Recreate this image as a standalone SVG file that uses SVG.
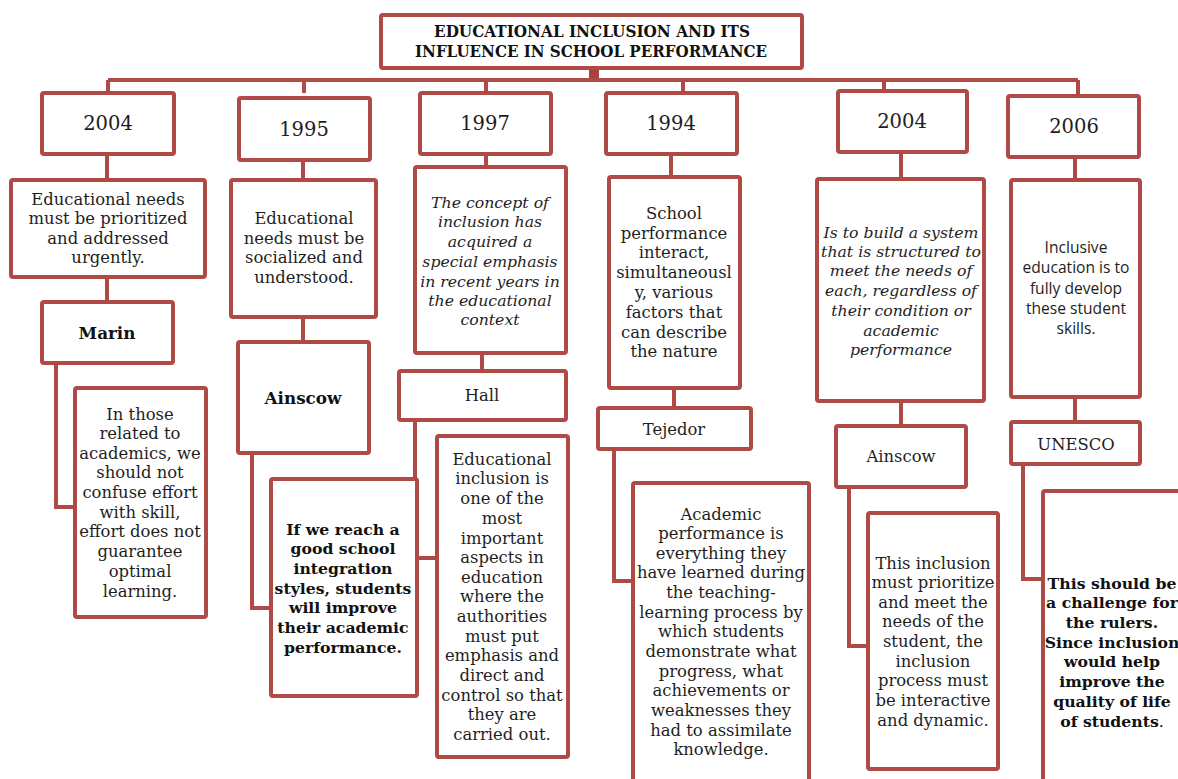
<svg xmlns="http://www.w3.org/2000/svg" width="1178" height="779" viewBox="0 0 1178 779">
<style>
.box{fill:#fff;stroke:#B04A47;stroke-width:4}
.conn{stroke:#B04A47;stroke-width:4;fill:none}
.t{font-family:"DejaVu Serif","Liberation Serif",serif;font-size:16.4px;fill:#1e1e1e;text-anchor:middle;dominant-baseline:central}
.yr{font-size:19.5px}
.b{font-weight:bold;font-size:15.7px;fill:#111}
.lb{font-weight:bold;font-size:16.8px;fill:#111}
.i{font-style:italic;font-size:15.7px}
.s{font-family:"Open Sans","Noto Sans",sans-serif;font-size:15.6px}
.title{font-family:"DejaVu Serif","Liberation Serif",serif;font-weight:bold;font-size:17.5px;fill:#111;text-anchor:middle;dominant-baseline:central}
</style>
<rect width="1178" height="779" fill="#fff"/>
<g id="connectors">
<rect x="589" y="68" width="10" height="14" fill="#A8403E"/>
<path class="conn" d="M108 80H1078"/>
<path class="conn" d="M108 80V93M304 80V93M486 80V93M683 80V93M884 80V91M1078 80V96"/>
<path class="conn" d="M107 155V180M107 277V302M56 363V507H75"/>
<path class="conn" d="M303 161V180M303 317V342M252 453V608H271"/>
<path class="conn" d="M486 155V167M482 353V371M415 420V558H437"/>
<path class="conn" d="M671 155V177M674 388V408M614 449V581H633"/>
<path class="conn" d="M901 153V179M901 401V426M849 487V646H868"/>
<path class="conn" d="M1075 157V180M1075 397V422M1023 464V579H1043"/>
</g>
<g id="title">
<rect class="box" x="381" y="15" width="421" height="53" rx="2"/>
<text class="title" x="592" y="31" textLength="316" lengthAdjust="spacingAndGlyphs">EDUCATIONAL INCLUSION AND ITS</text>
<text class="title" x="591" y="50.5" textLength="352" lengthAdjust="spacingAndGlyphs">INFLUENCE IN SCHOOL PERFORMANCE</text>
</g>
<g id="y2004a"><rect class="box" x="42" y="93" width="132" height="61" rx="2"/><text class="t yr" x="108" y="123">2004</text></g>
<g id="y1995"><rect class="box" x="239" y="98" width="131" height="62" rx="2"/><text class="t yr" x="304" y="129">1995</text></g>
<g id="y1997"><rect class="box" x="420" y="93" width="131" height="61" rx="2"/><text class="t yr" x="485" y="123">1997</text></g>
<g id="y1994"><rect class="box" x="606" y="93" width="131" height="61" rx="2"/><text class="t yr" x="671" y="123">1994</text></g>
<g id="y2004b"><rect class="box" x="838" y="91" width="129" height="61" rx="2"/><text class="t yr" x="902" y="121">2004</text></g>
<g id="y2006"><rect class="box" x="1008" y="96" width="131" height="61" rx="2"/><text class="t yr" x="1074" y="126">2006</text></g>

<g id="c1a"><rect class="box" x="11" y="180" width="194" height="97" rx="2"/>
<text class="t" x="108"><tspan x="108" y="199">Educational needs</tspan><tspan x="108" y="218">must be prioritized</tspan><tspan x="108" y="238">and addressed</tspan><tspan x="108" y="257">urgently.</tspan></text></g>
<g id="marin"><rect class="box" x="42" y="302" width="131" height="61" rx="2"/><text class="t lb" x="107" y="333">Marin</text></g>
<g id="c1b"><rect class="box" x="75" y="388" width="131" height="229" rx="2"/>
<text class="t" x="140"><tspan x="140" y="414">In those</tspan><tspan x="140" y="433">related to</tspan><tspan x="140" y="453">academics, we</tspan><tspan x="140" y="472">should not</tspan><tspan x="140" y="492">confuse effort</tspan><tspan x="140" y="512">with skill,</tspan><tspan x="140" y="531">effort does not</tspan><tspan x="140" y="551">guarantee</tspan><tspan x="140" y="571">optimal</tspan><tspan x="140" y="591">learning.</tspan></text></g>

<g id="c2a"><rect class="box" x="231" y="180" width="145" height="137" rx="2"/>
<text class="t" x="304"><tspan x="304" y="218">Educational</tspan><tspan x="304" y="238">needs must be</tspan><tspan x="304" y="257">socialized and</tspan><tspan x="304" y="277">understood.</tspan></text></g>
<g id="ainscow1"><rect class="box" x="238" y="342" width="131" height="111" rx="2"/><text class="t lb" x="303" y="398">Ainscow</text></g>
<g id="c2b"><rect class="box" x="271" y="479" width="146" height="217" rx="2"/>
<text class="t b" x="343"><tspan x="343" y="529">If we reach a</tspan><tspan x="343" y="548">good school</tspan><tspan x="343" y="568">integration</tspan><tspan x="343" y="588">styles, students</tspan><tspan x="343" y="607">will improve</tspan><tspan x="343" y="627">their academic</tspan><tspan x="343" y="647">performance.</tspan></text></g>

<g id="c3a"><rect class="box" x="415" y="167" width="151" height="186" rx="2"/>
<text class="t i" x="490"><tspan x="490" y="202">The concept of</tspan><tspan x="490" y="221">inclusion has</tspan><tspan x="490" y="241">acquired a</tspan><tspan x="490" y="261">special emphasis</tspan><tspan x="490" y="281">in recent years in</tspan><tspan x="490" y="300">the educational</tspan><tspan x="490" y="319">context</tspan></text></g>
<g id="hall"><rect class="box" x="399" y="371" width="167" height="49" rx="2"/><text class="t" x="482" y="395">Hall</text></g>
<g id="c3b"><rect class="box" x="437" y="436" width="131" height="321" rx="2"/>
<text class="t" x="502"><tspan x="502" y="459">Educational</tspan><tspan x="502" y="478">inclusion is</tspan><tspan x="502" y="498">one of the</tspan><tspan x="502" y="518">most</tspan><tspan x="502" y="538">important</tspan><tspan x="502" y="557">aspects in</tspan><tspan x="502" y="577">education</tspan><tspan x="502" y="596">where the</tspan><tspan x="502" y="616">authorities</tspan><tspan x="502" y="636">must put</tspan><tspan x="502" y="655">emphasis and</tspan><tspan x="502" y="675">direct and</tspan><tspan x="502" y="695">control so that</tspan><tspan x="502" y="714">they are</tspan><tspan x="502" y="734">carried out.</tspan></text></g>

<g id="c4a"><rect class="box" x="609" y="177" width="131" height="211" rx="2"/>
<text class="t" x="674"><tspan x="674" y="213">School</tspan><tspan x="674" y="233">performance</tspan><tspan x="674" y="252">interact,</tspan><tspan x="674" y="272">simultaneousl</tspan><tspan x="674" y="292">y, various</tspan><tspan x="674" y="312">factors that</tspan><tspan x="674" y="332">can describe</tspan><tspan x="674" y="351">the nature</tspan></text></g>
<g id="tejedor"><rect class="box" x="598" y="408" width="153" height="41" rx="2"/><text class="t" x="674" y="429">Tejedor</text></g>
<g id="c4b"><rect class="box" x="633" y="483" width="176" height="310" rx="2"/>
<text class="t" x="721"><tspan x="721" y="514">Academic</tspan><tspan x="721" y="533">performance is</tspan><tspan x="721" y="553">everything they</tspan><tspan x="721" y="572">have learned during</tspan><tspan x="721" y="592">the teaching-</tspan><tspan x="721" y="612">learning process by</tspan><tspan x="721" y="631">which students</tspan><tspan x="721" y="651">demonstrate what</tspan><tspan x="721" y="671">progress, what</tspan><tspan x="721" y="690">achievements or</tspan><tspan x="721" y="710">weaknesses they</tspan><tspan x="721" y="730">had to assimilate</tspan><tspan x="721" y="749">knowledge.</tspan></text></g>

<g id="c5a"><rect class="box" x="817" y="179" width="167" height="222" rx="2"/>
<text class="t i" x="901"><tspan x="901" y="232">Is to build a system</tspan><tspan x="901" y="251">that is structured to</tspan><tspan x="901" y="270">meet the needs of</tspan><tspan x="901" y="290">each, regardless of</tspan><tspan x="901" y="310">their condition or</tspan><tspan x="901" y="330">academic</tspan><tspan x="901" y="349">performance</tspan></text></g>
<g id="ainscow2"><rect class="box" x="836" y="426" width="130" height="61" rx="2"/><text class="t" x="901" y="456">Ainscow</text></g>
<g id="c5b"><rect class="box" x="868" y="513" width="130" height="256" rx="2"/>
<text class="t" x="933"><tspan x="933" y="563">This inclusion</tspan><tspan x="933" y="582">must prioritize</tspan><tspan x="933" y="602">and meet the</tspan><tspan x="933" y="621">needs of the</tspan><tspan x="933" y="641">student, the</tspan><tspan x="933" y="661">inclusion</tspan><tspan x="933" y="680">process must</tspan><tspan x="933" y="700">be interactive</tspan><tspan x="933" y="720">and dynamic.</tspan></text></g>

<g id="c6a"><rect class="box" x="1011" y="180" width="129" height="217" rx="2"/>
<text class="t s" x="1076"><tspan x="1076" y="247">Inclusive</tspan><tspan x="1076" y="267">education is to</tspan><tspan x="1076" y="288">fully develop</tspan><tspan x="1076" y="308">these student</tspan><tspan x="1076" y="328">skills.</tspan></text></g>
<g id="unesco"><rect class="box" x="1011" y="422" width="129" height="42" rx="2"/><text class="t" x="1076" y="444">UNESCO</text></g>
<g id="c6b"><rect class="box" x="1043" y="491" width="200" height="320" rx="2"/>
<text class="t b" x="1112"><tspan x="1112" y="583">This should be</tspan><tspan x="1112" y="602">a challenge for</tspan><tspan x="1112" y="622">the rulers.</tspan><tspan x="1112" y="642">Since inclusion</tspan><tspan x="1112" y="661">would help</tspan><tspan x="1112" y="681">improve the</tspan><tspan x="1112" y="701">quality of life</tspan><tspan x="1112" y="721">of students<tspan font-weight="normal">.</tspan></tspan></text></g>
</svg>
